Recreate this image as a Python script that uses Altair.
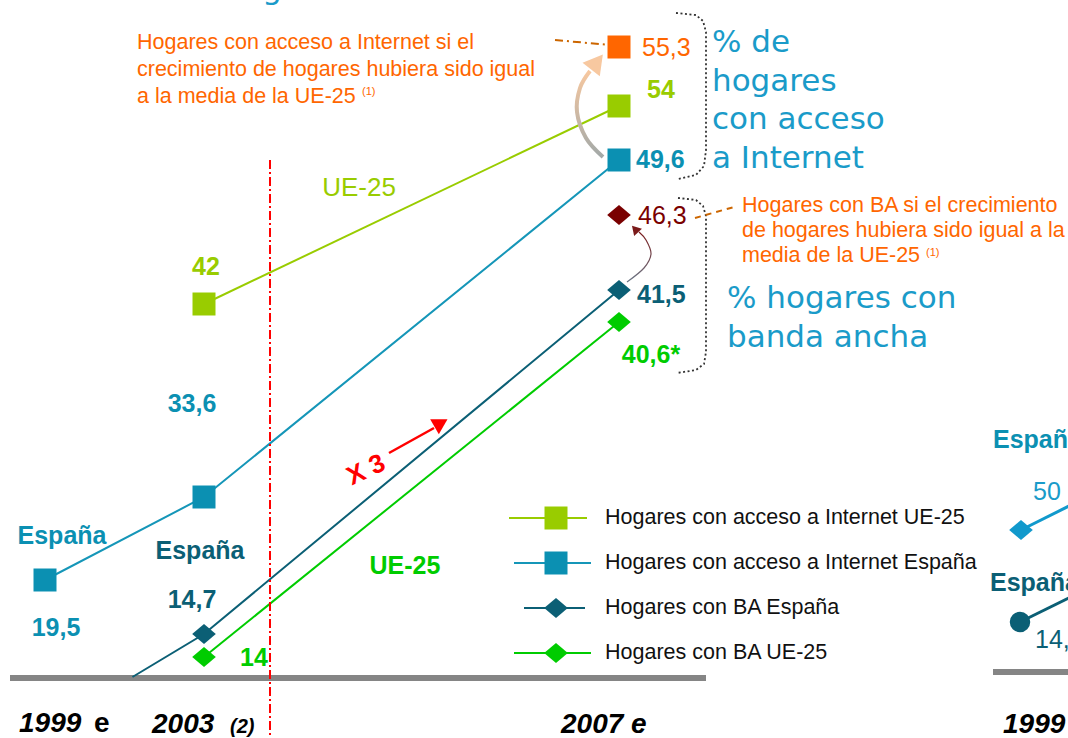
import altair as alt
import pandas as pd

# ---------------- data ----------------
years_es_net = [1999, 2003, 2007]
net_es_vals = [19.5, 33.6, 49.6]          # Hogares con acceso a Internet España
years_ue_net = [2003, 2007]
net_ue_vals = [42, 54]                    # Hogares con acceso a Internet UE-25
years_ba = [2003, 2007]
ba_es_vals = [14.7, 41.5]                 # Hogares con BA España
ba_ue_vals = [14, 40.6]                   # Hogares con BA UE-25
net_es_if_ue = 55.3                       # Internet España si crecimiento = media UE-25 (2007)
ba_es_if_ue = 46.3                        # BA España si crecimiento = media UE-25 (2007)
ba_es_start = (2001.2, 0)                 # where the BA España line leaves the baseline

legend_labels = ["Hogares con acceso a Internet UE-25",
                 "Hogares con acceso a Internet España",
                 "Hogares con BA España",
                 "Hogares con BA UE-25"]
year_labels = ["1999", "2003", "2007 e"]

ARIAL = "Liberation Sans, Arial, sans-serif"
VERD = "DejaVu Sans, Verdana, sans-serif"

C_UE_NET = "#99cc00"
C_ES_NET = "#0b90b2"
C_ES_BA = "#0b5f75"
C_UE_BA = "#00cc00"
C_ORANGE = "#ff6600"
C_DARKRED = "#7a0000"
C_BLUE_TXT = "#1a9bc9"

# ---------------- scales (drawing is schematic, so piecewise) ----------------
X = alt.Scale(domain=[1999, 2003, 2007], range=[45, 204, 619], nice=False, zero=False)
Y_NET = alt.Scale(domain=[19.5, 33.6, 42, 49.6, 54, 55.3],
                  range=[580, 497, 304, 160, 106, 47], nice=False, zero=False)
Y_BA = alt.Scale(domain=[0, 14, 14.7, 40.6, 41.5, 46.3],
                 range=[677, 657, 634, 322, 290, 215], nice=False, zero=False)


def es(v):
    return f"{v:g}".replace(".", ",")


def sdf(yrs, vals):
    return pd.DataFrame({"year": yrs, "value": vals, "label": [es(v) for v in vals]})


df_es_net = sdf(years_es_net, net_es_vals)
df_ue_net = sdf(years_ue_net, net_ue_vals)
df_es_ba = sdf(years_ba, ba_es_vals)
df_es_ba_line = sdf([ba_es_start[0]] + years_ba, [ba_es_start[1]] + ba_es_vals)
df_ue_ba = sdf(years_ba, ba_ue_vals)
df_ue_ba["label"] = [l + ("*" if v == 40.6 else "") for l, v in zip(df_ue_ba["label"], df_ue_ba["value"])]
df_net_if = sdf([2007], [net_es_if_ue])
df_ba_if = sdf([2007], [ba_es_if_ue])

ONE = pd.DataFrame({"a": [0]})

DIAMOND = "M-1,0L0,-0.85L1,0L0,0.85Z"
DSIZE = 560


def enc(ys):
    return dict(x=alt.X("year:Q", scale=X, axis=None), y=alt.Y("value:Q", scale=ys, axis=None))


def series_line(df, ys, color, width=2):
    return alt.Chart(df).mark_line(color=color, strokeWidth=width).encode(**enc(ys))


def series_pts(df, ys, color, shape, size):
    return alt.Chart(df).mark_point(shape=shape, filled=True, opacity=1, color=color,
                                    size=size, strokeWidth=0).encode(**enc(ys))


def series_lbl(df, ys, year, color, dx, dy, align="center", bold=True, size=25):
    return alt.Chart(df).transform_filter(alt.datum.year == year).mark_text(
        color=color, dx=dx, dy=dy, align=align, baseline="middle", font=ARIAL,
        fontSize=size, fontWeight="bold" if bold else "normal").encode(text="label:N", **enc(ys))


def txt(text, x, y, size=25, color="black", bold=False, italic=False, align="left",
        baseline="middle", font=ARIAL, **kw):
    return alt.Chart(ONE).mark_text(text=text, fontSize=size, color=color,
                                    fontWeight="bold" if bold else "normal",
                                    fontStyle="italic" if italic else "normal",
                                    align=align, baseline=baseline, font=font, **kw).encode(
        x=alt.value(x), y=alt.value(y))


def prule(x1, y1, x2, y2, **mark):
    return alt.Chart(ONE).mark_rule(**mark).encode(
        x=alt.value(x1), y=alt.value(y1), x2=alt.value(x2), y2=alt.value(y2))


def ppt(x, y, shape, size, color, angle=0):
    m = dict(shape=shape, filled=True, opacity=1, color=color, size=size, strokeWidth=0)
    if angle:
        m["angle"] = angle
    return alt.Chart(ONE).mark_point(**m).encode(x=alt.value(x), y=alt.value(y))


def pline(pts, **mark):
    df = pd.DataFrame({"px": [p[0] for p in pts], "py": [p[1] for p in pts], "i": list(range(len(pts)))})
    return alt.Chart(df).mark_line(**mark).encode(
        x=alt.X("px:Q", scale=None), y=alt.Y("py:Q", scale=None), order="i:Q")


layers = []

# baselines
layers.append(prule(10, 678, 706, 678, color="#858585", strokeWidth=6))
layers.append(prule(993, 672, 1070, 672, color="#858585", strokeWidth=6))

# dotted brackets
BR = dict(color="#333333", strokeWidth=1.8, strokeDash=[2, 2.5], interpolate="linear")
layers.append(pline([(676, 13), (696, 15), (703, 21), (706, 32), (706, 150), (704, 166),
                     (696, 175), (678, 179)], **BR))
layers.append(pline([(678, 198), (696, 200), (703, 206), (706, 216), (706, 352), (704, 364),
                     (696, 370), (677, 373)], **BR))

# series lines
layers.append(series_line(df_ue_net, Y_NET, C_UE_NET))
layers.append(series_line(df_es_net, Y_NET, "#1596b8"))
layers.append(series_line(df_es_ba_line, Y_BA, C_ES_BA))
layers.append(series_line(df_ue_ba, Y_BA, C_UE_BA))

# red dash-dot vertical line
layers.append(prule(270, 160, 270, 738, color="#ff0000", strokeWidth=2, strokeDash=[9, 3, 2, 3]))

# dash-dot leaders of the orange notes
layers.append(prule(555, 40, 610, 45, color="#cc6600", strokeWidth=2, strokeDash=[8, 4, 2, 4]))
layers.append(prule(695, 218, 734, 207, color="#cc6600", strokeWidth=2, strokeDash=[6, 5]))

# curved arrows
grad_big = alt.Gradient(gradient="linear", x1=0, y1=0, x2=0, y2=1,
                        stops=[alt.GradientStop(color="#f7c8a0", offset=0),
                               alt.GradientStop(color="#a3a9a8", offset=1)])
layers.append(pline([(603, 157), (586, 138), (577, 112), (580, 88), (590, 71)],
                    color=grad_big, strokeWidth=4, interpolate="cardinal"))
layers.append(ppt(597, 62, "triangle-up", 480, "#f7c8a0", angle=38))
grad_small = alt.Gradient(gradient="linear", x1=0, y1=1, x2=0, y2=0,
                          stops=[alt.GradientStop(color="#6a7888", offset=0),
                                 alt.GradientStop(color="#7a1a1a", offset=1)])
layers.append(pline([(627, 282), (644, 268), (651, 254), (646, 240), (639, 232)],
                    color=grad_small, strokeWidth=1.2, interpolate="cardinal"))
layers.append(ppt(635, 229, "triangle-up", 110, "#7a1a1a", angle=318))

# X 3 arrow
layers.append(prule(389, 453, 434, 428, color="#ff0000", strokeWidth=2.5))
layers.append(ppt(441, 423, "triangle-up", 300, "#ff0000", angle=60))
layers.append(txt("X 3", 366, 470, size=26, color="#ff0000", bold=True, align="center", angle=335))

# markers
layers.append(series_pts(df_ue_net, Y_NET, C_UE_NET, "square", 529))
layers.append(series_pts(df_es_net, Y_NET, C_ES_NET, "square", 529))
layers.append(series_pts(df_es_ba, Y_BA, C_ES_BA, DIAMOND, DSIZE))
layers.append(series_pts(df_ue_ba, Y_BA, C_UE_BA, DIAMOND, DSIZE))
layers.append(series_pts(df_net_if, Y_NET, C_ORANGE, "square", 529))
layers.append(series_pts(df_ba_if, Y_BA, C_DARKRED, DIAMOND, DSIZE))

# value labels
layers.append(series_lbl(df_es_net, Y_NET, 1999, C_ES_NET, 11, 48))
layers.append(series_lbl(df_es_net, Y_NET, 2003, C_ES_NET, -12, -93))
layers.append(series_lbl(df_es_net, Y_NET, 2007, C_ES_NET, 17, 0, align="left"))
layers.append(series_lbl(df_ue_net, Y_NET, 2003, C_UE_NET, 2, -37))
layers.append(series_lbl(df_ue_net, Y_NET, 2007, C_UE_NET, 42, -16))
layers.append(series_lbl(df_net_if, Y_NET, 2007, C_ORANGE, 23, 1, align="left", bold=False))
layers.append(series_lbl(df_es_ba, Y_BA, 2003, C_ES_BA, -12, -34))
layers.append(series_lbl(df_es_ba, Y_BA, 2007, C_ES_BA, 18, 5, align="left"))
layers.append(series_lbl(df_ba_if, Y_BA, 2007, C_DARKRED, 19, 1, align="left", bold=False))
layers.append(series_lbl(df_ue_ba, Y_BA, 2003, C_UE_BA, 36, 1, align="left"))
layers.append(series_lbl(df_ue_ba, Y_BA, 2007, C_UE_BA, 32, 33))

# series names
layers.append(txt("España", 62, 536, color=C_ES_NET, bold=True, align="center"))
layers.append(txt("España", 200, 551, color=C_ES_BA, bold=True, align="center"))
layers.append(txt("UE-25", 359, 188, size=26, color=C_UE_NET, align="center"))
layers.append(txt("UE-25", 405, 566, color=C_UE_BA, bold=True, align="center"))

# orange notes
layers.append(txt(["Hogares con acceso a Internet si el",
                   "crecimiento de hogares hubiera sido igual",
                   "a la media de la UE-25"], 137, 49, size=21.5, color=C_ORANGE,
                  baseline="alphabetic", lineHeight=27))
layers.append(txt("(1)", 362, 95, size=11, color=C_ORANGE, baseline="alphabetic"))
layers.append(txt(["Hogares con BA si el crecimiento",
                   "de hogares hubiera sido igual a la",
                   "media de la UE-25"], 742, 212, size=21.5, color=C_ORANGE,
                  baseline="alphabetic", lineHeight=25))
layers.append(txt("(1)", 926, 256, size=11, color=C_ORANGE, baseline="alphabetic"))

# big blue captions
layers.append(txt(["% de", "hogares", "con acceso", "a Internet"], 712, 52, size=31,
                  color=C_BLUE_TXT, font=VERD, baseline="alphabetic", lineHeight=38.5))
layers.append(txt(["% hogares con", "banda ancha"], 727, 308, size=31,
                  color=C_BLUE_TXT, font=VERD, baseline="alphabetic", lineHeight=39))
layers.append(txt("g", 272, -1, size=31, color=C_BLUE_TXT, font=VERD, baseline="alphabetic",
                  align="center"))

# year labels
layers.append(txt(year_labels[0], 19, 732, size=28, bold=True, italic=True, baseline="alphabetic"))
layers.append(txt("e", 94, 732, size=28, bold=True, baseline="alphabetic"))
layers.append(txt(year_labels[1], 152, 733, size=28, bold=True, italic=True, baseline="alphabetic"))
layers.append(txt("(2)", 230, 733, size=20, bold=True, italic=True, baseline="alphabetic"))
layers.append(txt(year_labels[2], 561, 733, size=28, bold=True, italic=True, baseline="alphabetic"))

# legend
leg_rows = [518, 563, 608, 653]
leg_colors = [C_UE_NET, C_ES_NET, C_ES_BA, C_UE_BA]
leg_line = ["#99cc00", "#1596b8", C_ES_BA, C_UE_BA]
leg_shapes = ["square", "square", DIAMOND, DIAMOND]
leg_x = [(509, 587), (514, 591), (524, 585), (514, 591)]
for lab, yy, col, lc, shp, (xa, xb) in zip(legend_labels, leg_rows, leg_colors, leg_line, leg_shapes, leg_x):
    layers.append(prule(xa, yy, xb, yy, color=lc, strokeWidth=2))
    layers.append(ppt(556, yy, shp, 529 if shp == "square" else DSIZE, col))
    layers.append(txt(lab, 605, yy, size=21.5, color="#111111"))

# neighbouring (cropped) chart on the right edge
layers.append(prule(1021, 530, 1075, 503, color="#1199cc", strokeWidth=3))
layers.append(ppt(1021, 530, DIAMOND, DSIZE, "#1199cc"))
layers.append(prule(1020, 622, 1075, 595, color=C_ES_BA, strokeWidth=3))
layers.append(ppt(1020, 622, "circle", 420, C_ES_BA))
layers.append(txt("España", 993, 440, color=C_ES_NET, bold=True))
layers.append(txt("50", 1033, 492, color=C_BLUE_TXT))
layers.append(txt("España", 990, 583, color=C_ES_BA, bold=True))
layers.append(txt("14,7", 1035, 640, color=C_ES_BA))
layers.append(txt("1999", 1003, 733, size=28, bold=True, italic=True, baseline="alphabetic"))

chart = alt.layer(*layers).resolve_scale(x="independent", y="independent").properties(
    width=1068, height=738, autosize=alt.AutoSizeParams(type="none"), padding=0,
    background="white"
).configure_view(stroke=None)

chart.save("out.html", embed_options={"renderer": "svg", "actions": False})
